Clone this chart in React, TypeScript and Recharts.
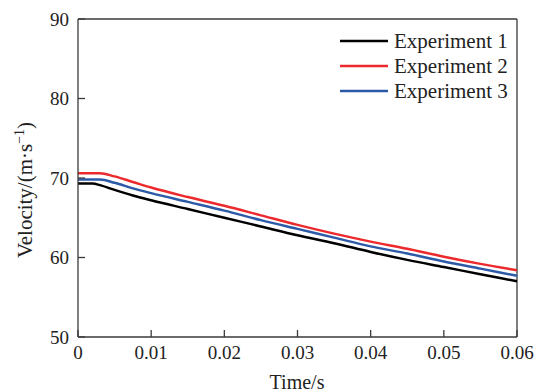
import { LineChart, Line, XAxis, YAxis, ReferenceLine } from 'recharts';

// Time (s) and velocity (m/s)
const times = [0, 0.002, 0.003, 0.005, 0.0075, 0.01, 0.015, 0.02, 0.025, 0.03, 0.035, 0.04, 0.045, 0.05, 0.055, 0.06];
const experiment1 = [69.3, 69.3, 69.1, 68.5, 67.8, 67.2, 66.1, 65.0, 63.9, 62.8, 61.8, 60.7, 59.7, 58.8, 57.9, 57.0];
const experiment2 = [70.6, 70.6, 70.6, 70.2, 69.5, 68.8, 67.6, 66.5, 65.3, 64.1, 63.0, 62.0, 61.1, 60.1, 59.2, 58.4];
const experiment3 = [69.8, 69.8, 69.8, 69.4, 68.7, 68.1, 67.0, 65.9, 64.7, 63.6, 62.5, 61.4, 60.5, 59.5, 58.6, 57.7];

const xTicks = [0, 0.01, 0.02, 0.03, 0.04, 0.05, 0.06];
const yTicks = [50, 60, 70, 80, 90];

const seriesKeys = ['e1', 'e2', 'e3'];
const seriesNames = ['Experiment 1', 'Experiment 2', 'Experiment 3'];
const seriesColors = ['#000000', '#ec2a2e', '#2c5aa8'];

const data = times.map((t, i) => ({
  t,
  e1: experiment1[i],
  e2: experiment2[i],
  e3: experiment3[i],
}));

const FONT = 'Liberation Serif';
const AXIS_COLOR = '#3a3a3a';
const TEXT_COLOR = '#222';

const formatTime = (v: number) => (v === 0 ? '0' : v.toFixed(2));

export default function App() {
  return (
    <div style={{ position: 'absolute', left: 0, top: 0, width: 544, height: 392, background: '#fff' }}>
      <LineChart width={544} height={392} data={data} margin={{ top: 19, right: 27, bottom: 0, left: 0 }}>
        {/* negative tickSize puts the tick marks inside the frame */}
        <XAxis
          dataKey="t"
          type="number"
          domain={[0, 0.06]}
          ticks={xTicks}
          tickFormatter={formatTime}
          tickSize={-7}
          tickMargin={16}
          tickLine={{ stroke: AXIS_COLOR, strokeWidth: 1.3 }}
          axisLine={{ stroke: AXIS_COLOR, strokeWidth: 1.3 }}
          tick={{ fill: TEXT_COLOR, fontSize: 19, fontFamily: FONT }}
          height={55}
        />
        <YAxis
          type="number"
          domain={[50, 90]}
          ticks={yTicks}
          tickSize={-7}
          tickMargin={16}
          tickLine={{ stroke: AXIS_COLOR, strokeWidth: 1.3 }}
          axisLine={{ stroke: AXIS_COLOR, strokeWidth: 1.3 }}
          tick={{ fill: TEXT_COLOR, fontSize: 19, fontFamily: FONT }}
          width={78}
        />
        {/* top and right sides of the frame */}
        <ReferenceLine y={90} stroke={AXIS_COLOR} strokeWidth={1.3} />
        <ReferenceLine x={0.06} stroke={AXIS_COLOR} strokeWidth={1.3} />
        {seriesKeys.map((k, i) => (
          <Line
            key={k}
            type="monotone"
            dataKey={k}
            name={seriesNames[i]}
            stroke={seriesColors[i]}
            strokeWidth={2.5}
            dot={false}
            isAnimationActive={false}
          />
        ))}
        <text x={297} y={389} textAnchor="middle" fontFamily={FONT} fontSize={20} fill={TEXT_COLOR}>
          Time/s
        </text>
        <text x={32} y={190} transform="rotate(-90, 32, 190)" textAnchor="middle" fontFamily={FONT} fontSize={21} fill={TEXT_COLOR}>
          Velocity/(m·s
          <tspan fontSize={14} dy={-8}>−1</tspan>
          <tspan dy={8}>)</tspan>
        </text>
        {/* legend */}
        {seriesNames.map((name, i) => (
          <g key={name}>
            <line x1={340} x2={388} y1={41 + i * 25} y2={41 + i * 25} stroke={seriesColors[i]} strokeWidth={2.5} />
            <text x={394} y={48 + i * 25} fontFamily={FONT} fontSize={21} fill={TEXT_COLOR}>
              {name}
            </text>
          </g>
        ))}
      </LineChart>
    </div>
  );
}
